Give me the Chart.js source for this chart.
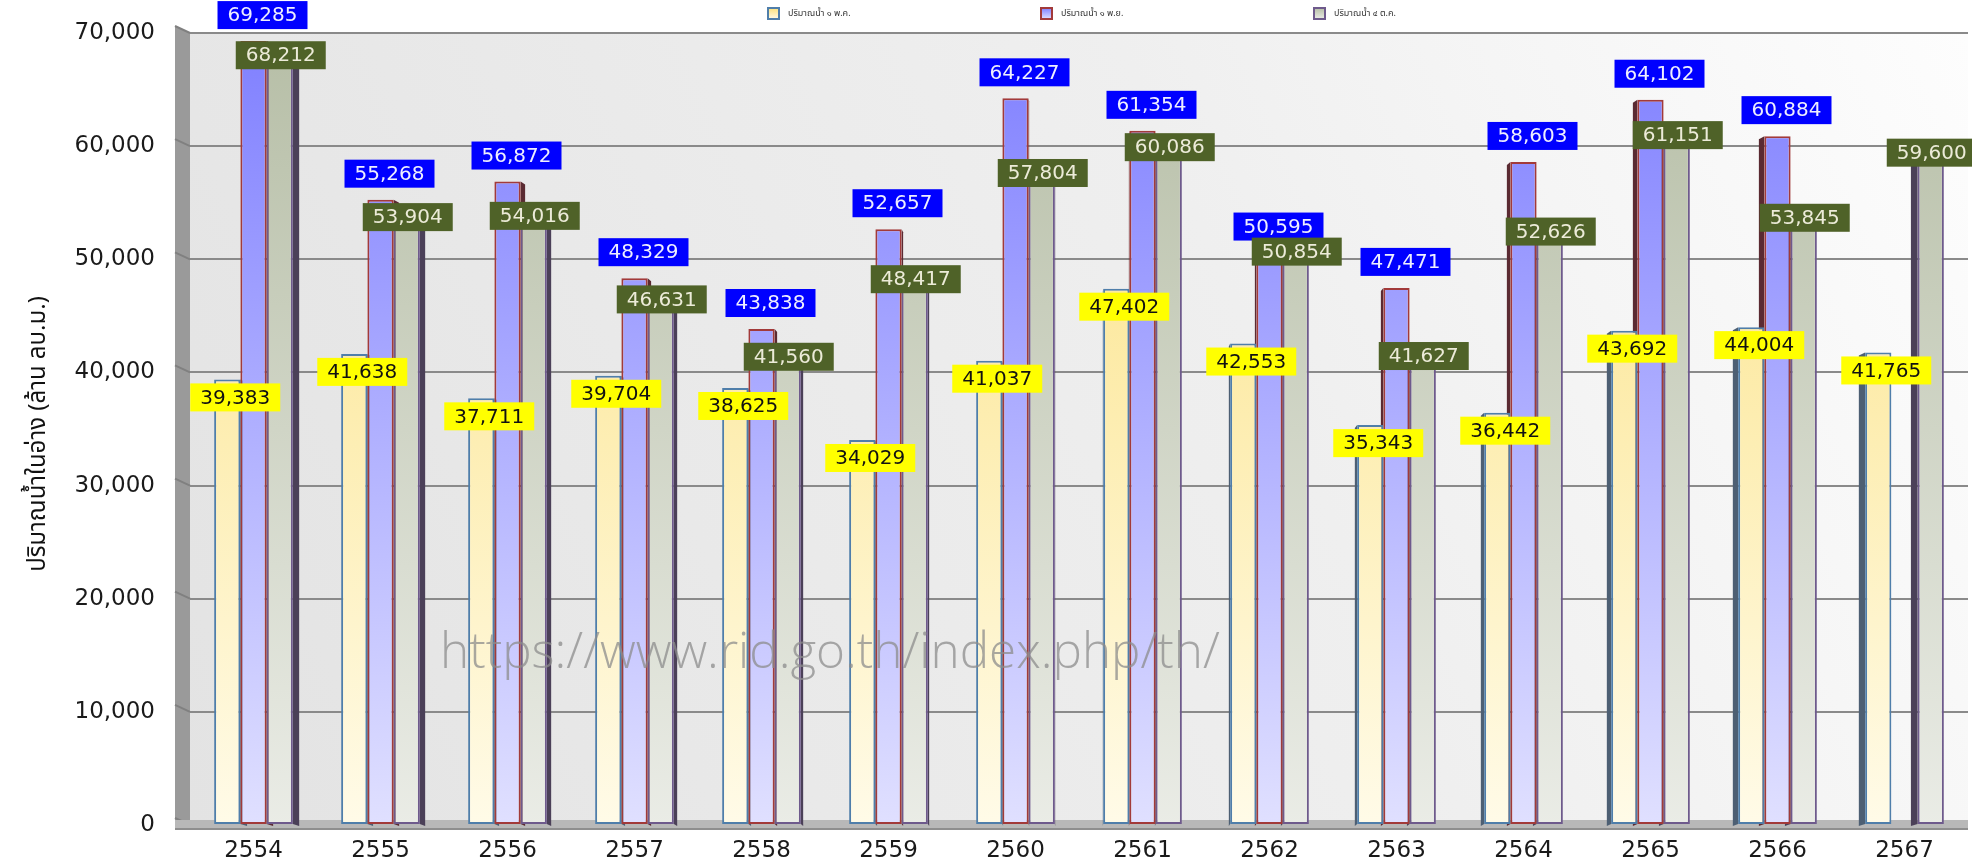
<!DOCTYPE html>
<html>
<head>
<meta charset="utf-8">
<script src="https://cdn.jsdelivr.net/npm/chart.js@4/dist/chart.umd.min.js"></script>
<style>
  html, body { margin: 0; padding: 0; background: #fff; }
  canvas { display: block; }
</style>
</head>
<body>
<canvas id="chart" width="1972" height="863"></canvas>
<script>
const years = ['2554', '2555', '2556', '2557', '2558', '2559', '2560', '2561', '2562', '2563', '2564', '2565', '2566', '2567'];
const may1 = [39383, 41638, 37711, 39704, 38625, 34029, 41037, 47402, 42553, 35343, 36442, 43692, 44004, 41765];
const nov1 = [69285, 55268, 56872, 48329, 43838, 52657, 64227, 61354, 50595, 47471, 58603, 64102, 60884, null];
const oct4 = [68212, 53904, 54016, 46631, 41560, 48417, 57804, 60086, 50854, 41627, 52626, 61151, 53845, 59600];
const seriesNames = ['ปริมาณน้ำ ๑ พ.ค.', 'ปริมาณน้ำ ๑ พ.ย.', 'ปริมาณน้ำ ๔ ต.ค.'];
const yTicks = [0, 10000, 20000, 30000, 40000, 50000, 60000, 70000];
const yTitle = 'ปริมาณน้ำในอ่าง (ล้าน ลบ.ม.)';
const watermark = 'https://www.rid.go.th/index.php/th/';

const thaiFont = '"Noto Sans Thai", Tahoma, "Noto Sans", "DejaVu Sans", sans-serif';
const axisFont = '"DejaVu Sans", Verdana, sans-serif';
const fills = [['#fbe07c', '#fffbe8'], ['#7f7fff', '#e0e0ff'], ['#b6bea6', '#eaece6']];
const borders = ['#4f7eaa', '#a23a3a', '#6e5a8c'];
const sides = ['#4d5f73', '#5a2a32', '#4b4058'];
const labelStyle = [
  { bg: '#ffff00', fg: '#111', dx: 8, dy: 18 },
  { bg: '#0000ff', fg: '#eef', dx: 9, dy: -26 },
  { bg: '#4f6228', fg: '#ecebd8', dx: 1, dy: 2 },
];

function grad(chart, i) {
  const a = chart.chartArea;
  if (!a) return fills[i][1];
  const g = chart.ctx.createLinearGradient(0, a.top, 0, a.bottom);
  g.addColorStop(0, fills[i][0]);
  g.addColorStop(1, fills[i][1]);
  return g;
}

const backdrop = {
  id: 'backdrop',
  beforeDraw(chart) {
    const { ctx, chartArea: a } = chart;
    ctx.save();
    ctx.fillStyle = '#fff';
    ctx.fillRect(0, 0, chart.width, chart.height);
    const g = ctx.createLinearGradient(a.left, a.bottom, a.right, a.top);
    g.addColorStop(0, '#e3e3e3');
    g.addColorStop(0.6, '#efefef');
    g.addColorStop(1, '#fdfdfd');
    ctx.fillStyle = g;
    ctx.fillRect(a.left, a.top, a.right - a.left, a.bottom - a.top);
    // left wall
    ctx.fillStyle = '#9a9a9a';
    ctx.beginPath();
    ctx.moveTo(a.left - 15, a.top - 7);
    ctx.lineTo(a.left, a.top);
    ctx.lineTo(a.left, a.bottom);
    ctx.lineTo(a.left - 15, a.bottom + 4);
    ctx.closePath();
    ctx.fill();
    ctx.strokeStyle = '#808080';
    ctx.lineWidth = 2;
    const y = chart.scales.y;
    yTicks.forEach((v) => {
      const py = y.getPixelForValue(v);
      ctx.beginPath();
      ctx.moveTo(a.left - 15, py - 7);
      ctx.lineTo(a.left, py);
      ctx.stroke();
    });
    ctx.restore();
  },
  beforeDatasetsDraw(chart) {
    const { ctx, chartArea: a } = chart;
    ctx.save();
    // floor
    ctx.fillStyle = '#b8b8b8';
    ctx.fillRect(a.left - 15, a.bottom - 5, a.right - a.left + 15, 9);
    ctx.fillStyle = '#8e8e8e';
    ctx.fillRect(a.left - 15, a.bottom + 3, a.right - a.left + 15, 2);
    // 3d side faces, covered by neighbouring bars
    const cx = (a.left + a.right) / 2;
    chart.data.datasets.forEach((ds, i) => {
      chart.getDatasetMeta(i).data.forEach((bar, j) => {
        if (ds.data[j] == null) return;
        const d = (bar.x - cx) / ((a.right - a.left) / 2) * 7;
        const edge = d > 0 ? bar.x - bar.width / 2 : bar.x + bar.width / 2;
        ctx.fillStyle = sides[i];
        ctx.beginPath();
        ctx.moveTo(edge, bar.y);
        ctx.lineTo(edge - d, bar.y + 3);
        ctx.lineTo(edge - d, bar.base + 2);
        ctx.lineTo(edge, bar.base);
        ctx.closePath();
        ctx.fill();
      });
    });
    ctx.restore();
  },
  afterDatasetsDraw(chart) {
    const { ctx } = chart;
    ctx.save();
    // watermark
    ctx.font = '300 48px "Open Sans", "Liberation Sans", sans-serif';
    const w = ctx.measureText(watermark).width;
    const size = 48 * 780 / w;
    ctx.font = `300 ${size}px "Open Sans", "Liberation Sans", sans-serif`;
    ctx.fillStyle = 'rgba(140,140,140,0.75)';
    ctx.textAlign = 'left';
    ctx.textBaseline = 'middle';
    ctx.fillText(watermark, 440, 654);

    // data labels
    ctx.font = `20px ${axisFont}`;
    ctx.textAlign = 'center';
    ctx.textBaseline = 'middle';
    chart.data.datasets.forEach((ds, i) => {
      const st = labelStyle[i];
      chart.getDatasetMeta(i).data.forEach((bar, j) => {
        const v = ds.data[j];
        if (v == null) return;
        const txt = v.toLocaleString('en-US');
        const tw = ctx.measureText(txt).width + 20;
        const x = bar.x + st.dx;
        const y = bar.y + st.dy;
        ctx.fillStyle = st.bg;
        ctx.fillRect(x - tw / 2, y - 14, tw, 28);
        ctx.fillStyle = st.fg;
        ctx.fillText(txt, x, y + 1);
      });
    });
    ctx.restore();
  },
  afterDraw(chart) {
    const { ctx, chartArea: a } = chart;
    ctx.save();
    // y title
    ctx.translate(40, (a.top + a.bottom) / 2 + 5);
    ctx.rotate(-Math.PI / 2);
    ctx.font = `24px ${thaiFont}`;
    ctx.fillStyle = '#111';
    ctx.textAlign = 'center';
    ctx.textBaseline = 'middle';
    ctx.fillText(yTitle, 0, 0);
    ctx.restore();

    // legend
    ctx.save();
    ctx.font = `9px ${thaiFont}`;
    ctx.textBaseline = 'middle';
    seriesNames.forEach((name, i) => {
      const x = 768 + i * 273;
      const g = ctx.createLinearGradient(0, 8, 0, 19);
      g.addColorStop(0, fills[i][0]);
      g.addColorStop(1, fills[i][1]);
      ctx.fillStyle = g;
      ctx.fillRect(x, 8, 11, 11);
      ctx.strokeStyle = borders[i];
      ctx.lineWidth = 2;
      ctx.strokeRect(x, 8, 11, 11);
      ctx.fillStyle = '#333';
      ctx.fillText(name, x + 20, 14);
    });
    ctx.restore();
  },
};

const ctx = document.getElementById('chart').getContext('2d');
new Chart(ctx, {
  type: 'bar',
  data: {
    labels: years,
    datasets: [may1, nov1, oct4].map((data, i) => ({
      label: seriesNames[i],
      data,
      backgroundColor: (c) => grad(c.chart, i),
      borderColor: borders[i],
      borderWidth: 2,
      borderSkipped: false,
      categoryPercentage: 0.62,
      barPercentage: 1,
    })),
  },
  options: {
    responsive: false,
    animation: false,
    layout: { padding: { top: 33, right: 4, left: 0, bottom: 0 } },
    plugins: { legend: { display: false }, tooltip: { enabled: false } },
    scales: {
      x: {
        grid: { display: false },
        border: { display: false },
        ticks: { color: '#1a1a1a', font: { family: axisFont, size: 23 }, padding: 4 },
        afterFit(scale) { scale.height = 38; },
      },
      y: {
        min: 0,
        max: 70000,
        afterBuildTicks(scale) { scale.ticks = yTicks.map((v) => ({ value: v })); },
        grid: { color: '#8a8a8a', lineWidth: 2, drawTicks: false },
        border: { display: false },
        ticks: {
          color: '#1a1a1a',
          padding: 35,
          font: { family: axisFont, size: 23 },
          callback: (v) => v.toLocaleString('en-US'),
        },
        afterFit(scale) {
          scale.width = 190;
          scale.paddingTop = 0;
          scale.paddingBottom = 0;
        },
      },
    },
  },
  plugins: [backdrop],
});
</script>
</body>
</html>
